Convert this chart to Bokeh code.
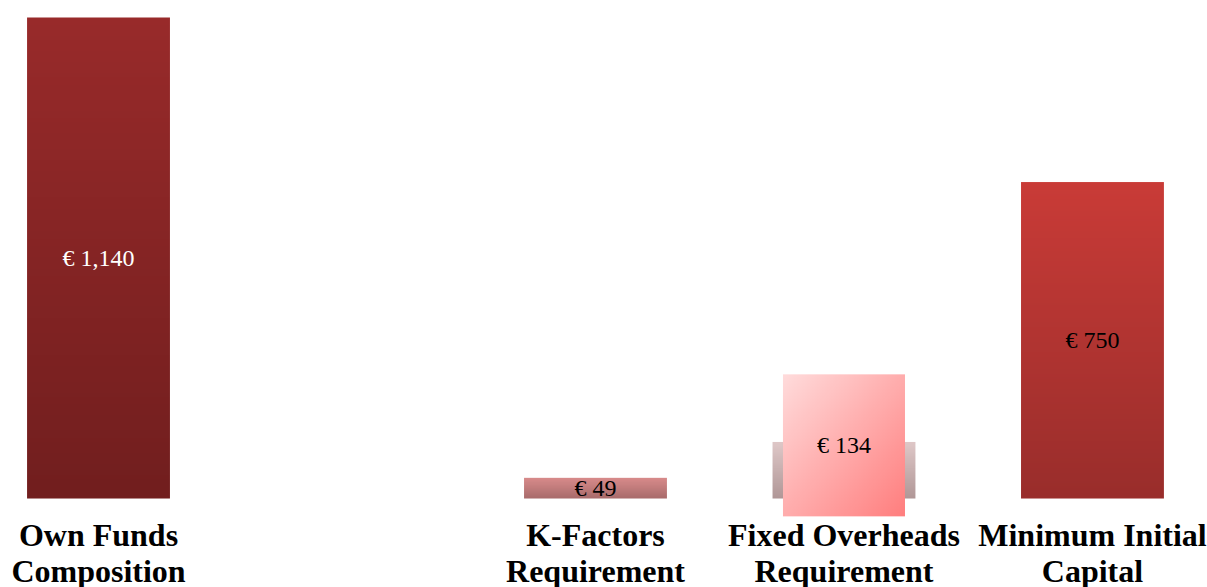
import numpy as np
from bokeh.plotting import figure
from bokeh.models import Range1d, ColumnDataSource
from bokeh.core.properties import value
from bokeh.embed import file_html
from bokeh.resources import INLINE

# ---- data ----
categories = ["Own Funds\nComposition", "", "K-Factors\nRequirement",
              "Fixed Overheads\nRequirement", "Minimum Initial\nCapital"]
values = [1140, None, 49, 134, 750]
value_labels = ["€ 1,140", "", "€ 49", "€ 134", "€ 750"]
top_colors = ["#982a2a", None, "#da8c8c", "#dfc8c8", "#c93b37"]
bottom_colors = ["#711e1e", None, "#a86b6b", "#b09797", "#992d2b"]
label_colors = ["white", None, "black", "black", "black"]
highlight_index = 3

# ---- layout ----
W, H = 1207, 587
BAR_W = 0.575
p = figure(width=W, height=H, output_backend="svg", toolbar_location=None,
           x_range=Range1d(-0.3944, 4.4629), y_range=Range1d(-210.9, 1180.3),
           min_border=0, outline_line_color=None)
p.axis.visible = False
p.grid.visible = False
p.background_fill_color = "white"
p.border_fill_color = "white"


def hex_rgb(h):
    h = h.lstrip("#")
    return np.array([int(h[i:i + 2], 16) for i in (0, 2, 4)], dtype=float)


def vertical_gradient(top, bottom, n=128):
    t = np.linspace(0, 1, n)[:, None]  # row 0 = bottom
    rgb = hex_rgb(bottom) * (1 - t) + hex_rgb(top) * t
    img = np.empty((n, 1), dtype=np.uint32)
    view = img.view(dtype=np.uint8).reshape((n, 1, 4))
    view[:, 0, 0:3] = np.round(rgb).astype(np.uint8)
    view[:, 0, 3] = 255
    return img


def diagonal_gradient(c0, c1, n=96):
    rows = np.arange(n)[:, None]
    cols = np.arange(n)[None, :]
    t = ((n - 1 - rows) + cols) / (2.0 * (n - 1))  # 0 at top-left
    a, b = hex_rgb(c0), hex_rgb(c1)
    img = np.empty((n, n), dtype=np.uint32)
    view = img.view(dtype=np.uint8).reshape((n, n, 4))
    for k in range(3):
        view[:, :, k] = np.round(a[k] * (1 - t) + b[k] * t).astype(np.uint8)
    view[:, :, 3] = 255
    return img


xs = list(range(len(categories)))
for i, v in enumerate(values):
    if v is None:
        continue
    img = vertical_gradient(top_colors[i], bottom_colors[i])
    p.image_rgba(image=[img], x=xs[i] - BAR_W / 2, y=0, dw=BAR_W, dh=v)

# highlight box on Fixed Overheads
hv = values[highlight_index]
box_cy = hv - 8
box = diagonal_gradient("#ffdbdb", "#ff7e7e")
p.image_rgba(image=[box], x=xs[highlight_index], y=box_cy, dw=122, dh=142,
             dw_units="screen", dh_units="screen", anchor="center")

# value labels
lx, ly, lt, lc = [], [], [], []
for i, v in enumerate(values):
    if v is None:
        continue
    lx.append(xs[i])
    ly.append(box_cy if i == highlight_index else v / 2)
    lt.append(value_labels[i])
    lc.append(label_colors[i])
src = ColumnDataSource(dict(x=lx, y=ly, t=lt, c=lc))
p.text(x="x", y="y", text="t", text_color="c", source=src,
       text_font=value("Liberation Serif"), text_font_size="24px",
       text_align="center", text_baseline="middle")

# category labels
l1x, l1t, l2t = [], [], []
for i, c in enumerate(categories):
    if not c:
        continue
    parts = c.split("\n")
    l1x.append(xs[i])
    l1t.append(parts[0])
    l2t.append(parts[1] if len(parts) > 1 else "")
csrc = ColumnDataSource(dict(x=l1x, y=[0] * len(l1x), t1=l1t, t2=l2t))
for col, off in (("t1", 36), ("t2", 72)):
    p.text(x="x", y="y", text=col, source=csrc, y_offset=off,
           text_font=value("Liberation Serif"), text_font_size="32px",
           text_font_style="bold", text_color="black",
           text_align="center", text_baseline="middle")

open("out.html", "w").write(file_html(p, INLINE))
